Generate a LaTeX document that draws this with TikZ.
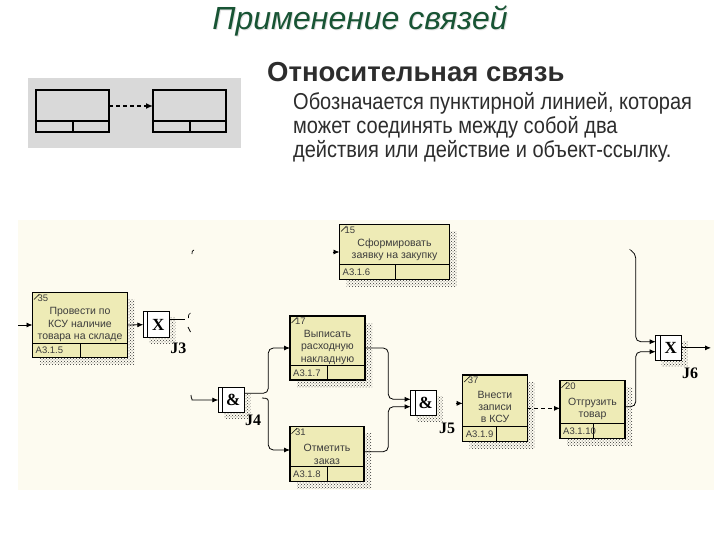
\documentclass[tikz,border=0pt]{standalone}
\usepackage{fontspec}
\setmainfont{Liberation Sans}
\newfontfamily\jfont{Liberation Serif}
\newfontfamily\narrowfont{Liberation Sans}[FakeStretch=0.87]
\usetikzlibrary{arrows.meta,patterns,calc}
\definecolor{titlegreen}{RGB}{24,84,52}
\definecolor{creambg}{RGB}{253,251,240}
\definecolor{uowfill}{RGB}{238,235,182}
\definecolor{panelgray}{RGB}{217,217,217}
\definecolor{bodygray}{RGB}{45,45,45}
\definecolor{boxtext}{RGB}{60,60,60}
\tikzset{
 uow/.style={draw=black, fill=uowfill, line width=1.2pt, inner sep=0pt, outer sep=0pt, anchor=north west},
 shade hatch/.style={pattern=crosshatch dots, pattern color=black!80},
 jbox/.style={draw=black, fill=white, line width=1pt, inner sep=0pt, outer sep=0pt, minimum width=26pt, minimum height=25.5pt},
 conn/.style={line width=0.8pt, rounded corners=5pt},
 arr/.style={conn, -{Latex[length=6pt,width=5pt]}},
 uowtxt/.style={font=\fontsize{10.5}{12.3}\selectfont, text=boxtext, align=center, inner sep=0pt},
 uownum/.style={font=\fontsize{9.5}{10}\selectfont, text=boxtext, inner sep=0pt, anchor=north west},
 uowid/.style={font=\fontsize{9.5}{10}\selectfont, text=boxtext, inner sep=0pt, anchor=west},
 jlabel/.style={font=\jfont\bfseries\fontsize{16}{16}\selectfont, inner sep=0pt},
 jsym/.style={font=\jfont\bfseries\fontsize{17}{17}\selectfont, inner sep=0pt},
 smallbox/.style={draw=black, line width=2pt, fill=panelgray, inner sep=0pt, outer sep=0pt, minimum width=73pt, minimum height=42pt, anchor=north west},
 bodyline/.style={font=\narrowfont\fontsize{23}{23}\selectfont, text=bodygray, inner sep=0pt, anchor=west},
}
\newcommand\uowbox[9]{%
 \fill[shade hatch] (#2+7,#3+7) rectangle (#4+7,#5+7);
 \node[uow, minimum width={(#4-#2)*1pt}, minimum height={(#5-#3)*1pt}] (#1) at (#2,#3) {};
 \draw[line width=1.2pt] (#2,#6) -- (#4,#6) (#7,#6) -- (#7,#5);
 \draw[line width=0.6pt] (#2+1.5,#3+7) -- (#2+7,#3+1.5);
 \node[uownum] (#1num) at (#2+5,#3+2) {#8};
 \node[uowid] (#1id) at (#2+3,{(#6+#5)/2}) {#9};
}
\newcommand\junc[4]{%
 \fill[shade hatch] (#2-7,#3-6.75) rectangle (#2+19,#3+18.75);
 \node[jbox] (#1) at (#2,#3) {};
 \draw[line width=1pt] ([xshift=4.4pt]#1.north west) -- ([xshift=4.4pt]#1.south west);
 \node[jsym] (#1sym) at ([xshift=2pt]#1.center) {#4};
}
\begin{document}
\begin{tikzpicture}[x=1pt,y=-1pt]
\useasboundingbox (0,0) rectangle (720,540);
\fill[white] (0,0) rectangle (720,540);

% title
\node[font=\itshape\fontsize{32}{32}\selectfont, text=black!12, inner sep=0pt] (titleshadow) at (361,22) {Применение связей};
\node[font=\itshape\fontsize{32}{32}\selectfont, text=titlegreen, inner sep=0pt] (title) at (360,21) {Применение связей};
\node[font=\bfseries\fontsize{27.5}{27.5}\selectfont, text=bodygray, inner sep=0pt, anchor=west] (subtitle) at (267,72) {Относительная связь};
\node[bodyline] (body1) at (293,103) {Обозначается пунктирной линией, которая};
\node[bodyline] (body2) at (293,127) {может соединять между собой два};
\node[bodyline] (body3) at (293,151) {действия или действие и объект-ссылку.};

% small example
\fill[panelgray] (28,78) rectangle (241,148);
\node[smallbox] (sa) at (36,90) {};
\draw[line width=2pt] (36,121) -- (109,121) (73,121) -- (73,132);
\node[smallbox] (sb) at (153,90) {};
\draw[line width=2pt] (153,121) -- (227,121) (190,121) -- (190,132);
\draw[line width=1.6pt, dash pattern=on 4pt off 3pt, -{Latex[length=7pt,width=6pt]}] ([yshift=5pt]sa.east) -- ([yshift=5pt]sb.west);

% diagram background
\fill[creambg] (18,220) rectangle (714,490);

% units of work
\uowbox{b35}{32.5}{292.5}{127.5}{357.5}{343.5}{80.5}{35}{A3.1.5}
\draw[line width=1.8pt] (b35.north west) rectangle (b35.south east);
\draw[line width=1.8pt] (32.5,343.5) -- (127.5,343.5);
\node[uowtxt] (b35t) at (80,324.5) {Провести по\\КСУ наличие\\товара на складе};

\uowbox{b15}{339.5}{224.5}{449.5}{279.5}{264.5}{395.5}{15}{A3.1.6}
\node[uowtxt] (b15t) at (394.5,249.5) {Сформировать\\заявку на закупку};

\uowbox{bv}{290}{316}{365}{380}{365.7}{327.7}{17}{A3.1.7}
\node[uowtxt] (bvt) at (327.5,347.3) {Выписать\\расходную\\накладную};

\uowbox{bo}{290}{426.7}{364}{481.7}{466.7}{327.7}{31}{A3.1.8}
\node[uowtxt] (bot) at (327,454.5) {Отметить\\заказ};

\uowbox{b37}{462.7}{375}{527.3}{441.7}{426.7}{496.7}{37}{A3.1.9}
\node[uowtxt] (b37t) at (495,407) {Внести\\записи\\в КСУ};

\uowbox{b20}{560}{380.7}{625}{438.3}{423.3}{593.3}{20}{A3.1.10}
\node[uowtxt] (b20t) at (592.5,409) {Отгрузить\\товар};

% junctions
\junc{j3}{156.3}{324.7}{X}
\junc{j4}{231.3}{400}{\&}
\junc{j5}{423.7}{403.2}{\&}
\junc{j6}{668.7}{347.85}{X}
\node[jlabel] (j3l) at (178.3,348.3) {J3};
\node[jlabel] (j4l) at (253,420) {J4};
\node[jlabel] (j5l) at (447,428.3) {J5};
\node[jlabel] (j6l) at (690,373.3) {J6};

% connectors
\coordinate (in35) at (18,325);
\draw[arr] (in35) -- (b35.west);
\draw[arr] (b35.east) -- (j3.west);
\coordinate (j3out) at (185,319);
\draw[conn] ([yshift=5.7pt]j3.east) -- (j3out);
\draw[line width=0.7pt] (190.5,313) .. controls (188.5,314.5) .. (188.5,318);
\draw[line width=0.7pt] (188,327) .. controls (188.5,330) .. (190.5,332);
\draw[line width=0.7pt] (194,250) .. controls (192,251) .. (192,254);

\coordinate (in4) at (191,395);
\draw[arr] (in4) .. controls (191,399) and (193,400) .. (197,400) -- (j4.west);
\draw[arr] ([yshift=6.7pt]j4.east) -- (268.3,393.3) -- (268.3,348) -- (bv.west);
\coordinate (j4split) at (262,398);
\draw[arr] (j4split) .. controls (268.3,398) and (268.3,400) .. (268.3,406) -- (268.3,450) -- ([yshift=4.2pt]bo.west);

\draw[arr] (bv.east) -- (388.3,348) -- (388.3,399.3) -- ([yshift=3.9pt]j5.west);
\draw[arr] ([yshift=2.5pt]bo.east) -- (388.3,451.7) -- (388.3,406.7) -- ([yshift=-3.5pt]j5.west);

\draw[arr] ([xshift=-7pt,yshift=5pt]b37.west) -- ([yshift=5pt]b37.west);
\draw[arr] ([xshift=-7pt]b15.west) -- (b15.west);

\draw[arr, dashed, dash pattern=on 4pt off 3pt] (b37.east) -- (b37.east -| b20.west);

\draw[arr] ([yshift=2.8pt]b20.east) -- (635.7,406.7) -- (635.7,351.7) -- ([yshift=-3.85pt]j6.west);
\coordinate (top6) at (632,251);
\draw[arr] (top6) -- (635.7,253) -- (635.7,341.7) -- ([yshift=6.15pt]j6.west);
\coordinate (out6) at (711,347.85);
\draw[arr] (j6.east) -- (out6);
\end{tikzpicture}
\end{document}
